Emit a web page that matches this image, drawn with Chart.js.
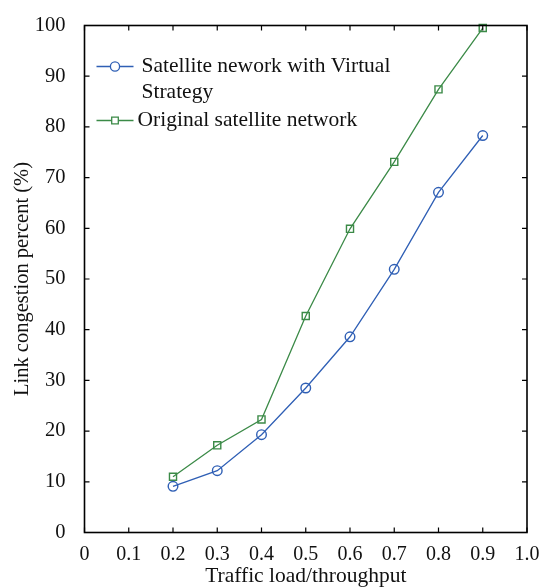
<!DOCTYPE html>
<html>
<head>
<meta charset="utf-8">
<script src="https://cdn.jsdelivr.net/npm/chart.js@4/dist/chart.umd.min.js"></script>
<style>
  html, body { margin: 0; padding: 0; background: #fff; }
  #wrap { width: 544px; height: 588px; position: relative; }
</style>
</head>
<body>
<div id="wrap"><canvas id="c" width="544" height="588"></canvas></div>
<script>
// Traffic load values along the x axis
const trafficLoad = [0.2, 0.3, 0.4, 0.5, 0.6, 0.7, 0.8, 0.9];
// Link congestion percent (%) for each network
const virtualStrategy = [9.1, 12.2, 19.3, 28.5, 38.6, 51.9, 67.1, 78.3];
const originalNetwork = [11.0, 17.2, 22.3, 42.7, 59.9, 73.1, 87.4, 99.5];
// Legend text, one entry per line
const virtualLabel = ['Satellite nework with Virtual', 'Strategy'];
const originalLabel = ['Original satellite network'];
// Tick labels
const xTickLabels = ['0', '0.1', '0.2', '0.3', '0.4', '0.5', '0.6', '0.7', '0.8', '0.9', '1.0'];
const yTickLabels = ['0', '10', '20', '30', '40', '50', '60', '70', '80', '90', '100'];

const SERIF = '"Liberation Serif", "Times New Roman", serif';
const BLUE = '#2f5fb5';
const GREEN = '#3b8a47';

const toPoints = (xs, ys) => xs.map((x, i) => ({ x: x, y: ys[i] }));

// Box frame with inward tick marks on all four sides
const framePlugin = {
  id: 'frame',
  afterDatasetsDraw(chart) {
    const { ctx, chartArea: a, scales } = chart;
    ctx.save();
    ctx.strokeStyle = '#000';
    ctx.lineWidth = 1.6;
    ctx.strokeRect(a.left, a.top, a.right - a.left, a.bottom - a.top);
    ctx.lineWidth = 1.2;
    const len = 5;
    ctx.beginPath();
    scales.x.ticks.forEach((t, i) => {
      const px = scales.x.getPixelForTick(i);
      ctx.moveTo(px, a.bottom); ctx.lineTo(px, a.bottom - len);
      ctx.moveTo(px, a.top); ctx.lineTo(px, a.top + len);
    });
    scales.y.ticks.forEach((t, i) => {
      const py = scales.y.getPixelForTick(i);
      ctx.moveTo(a.left, py); ctx.lineTo(a.left + len, py);
      ctx.moveTo(a.right, py); ctx.lineTo(a.right - len, py);
    });
    ctx.stroke();
    ctx.restore();
  }
};

// Legend drawn inside the plot, top-left, with wrapped text
const legendPlugin = {
  id: 'insideLegend',
  afterDraw(chart) {
    const { ctx, chartArea: a } = chart;
    const lines = [virtualLabel, originalLabel];
    ctx.save();
    ctx.font = '21.5px ' + SERIF;
    ctx.textBaseline = 'middle';
    ctx.fillStyle = '#111';
    let y = a.top + 41;
    chart.data.datasets.forEach((ds, i) => {
      const x0 = a.left + 12, x1 = a.left + 49;
      ctx.strokeStyle = ds.borderColor;
      ctx.lineWidth = 1.3;
      ctx.beginPath(); ctx.moveTo(x0, y); ctx.lineTo(x1, y); ctx.stroke();
      const cx = (x0 + x1) / 2;
      ctx.beginPath();
      if (ds.pointStyle === 'rect') {
        ctx.rect(cx - 3.3, y - 3.3, 6.6, 6.6);
      } else {
        ctx.arc(cx, y, 4.6, 0, Math.PI * 2);
      }
      ctx.fillStyle = '#fff'; ctx.fill(); ctx.stroke();
      ctx.fillStyle = '#111';
      const tx = i === 0 ? a.left + 57 : a.left + 53;
      lines[i].forEach((t, k) => ctx.fillText(t, tx, y + k * 26));
      y += lines[i].length * 26 + 2;
    });
    ctx.restore();
  }
};

new Chart(document.getElementById('c'), {
  type: 'line',
  data: {
    datasets: [
      {
        label: virtualLabel.join(' '),
        data: toPoints(trafficLoad, virtualStrategy),
        borderColor: BLUE,
        backgroundColor: 'rgba(0,0,0,0)',
        borderWidth: 1.3,
        pointStyle: 'circle',
        pointRadius: 4.8,
        pointBorderWidth: 1.4,
        pointBackgroundColor: 'rgba(0,0,0,0)',
        pointBorderColor: BLUE,
        tension: 0
      },
      {
        label: originalLabel.join(' '),
        data: toPoints(trafficLoad, originalNetwork),
        borderColor: GREEN,
        backgroundColor: 'rgba(0,0,0,0)',
        borderWidth: 1.3,
        pointStyle: 'rect',
        pointRadius: 5,
        pointBorderWidth: 1.4,
        pointBackgroundColor: 'rgba(0,0,0,0)',
        pointBorderColor: GREEN,
        tension: 0
      }
    ]
  },
  options: {
    responsive: false,
    animation: false,
    clip: false,
    layout: { padding: { top: 25.5, right: 17, left: 0, bottom: 0 } },
    plugins: {
      legend: { display: false },
      tooltip: { enabled: false }
    },
    scales: {
      x: {
        type: 'linear',
        min: 0,
        max: 1,
        grid: { display: false },
        border: { display: false },
        afterFit(scale) { scale.height = 55.5; },
        afterBuildTicks(scale) {
          scale.ticks = xTickLabels.map((t, i) => ({ value: i / 10 }));
        },
        ticks: {
          color: '#111',
          padding: 2,
          font: { family: SERIF, size: 20 },
          maxRotation: 0,
          autoSkip: false,
          callback: (v, i) => xTickLabels[i]
        },
        title: {
          display: true,
          text: 'Traffic load/throughput',
          color: '#111',
          font: { family: SERIF, size: 21.5, lineHeight: 1.1 },
          padding: { top: 0, bottom: 0 }
        }
      },
      y: {
        type: 'linear',
        min: 0,
        max: 100,
        grid: { display: false },
        border: { display: false },
        afterFit(scale) { scale.width = 84.5; },
        afterBuildTicks(scale) {
          scale.ticks = yTickLabels.map((t, i) => ({ value: i * 10 }));
        },
        ticks: {
          color: '#111',
          padding: 11,
          font: { family: SERIF, size: 20.5 },
          autoSkip: false,
          callback: (v, i) => yTickLabels[i]
        },
        title: {
          display: true,
          text: 'Link congestion percent (%)',
          color: '#111',
          font: { family: SERIF, size: 20.5, lineHeight: 1.1 },
          padding: { top: 11, bottom: 0 }
        }
      }
    }
  },
  plugins: [framePlugin, legendPlugin]
});
</script>
</body>
</html>
